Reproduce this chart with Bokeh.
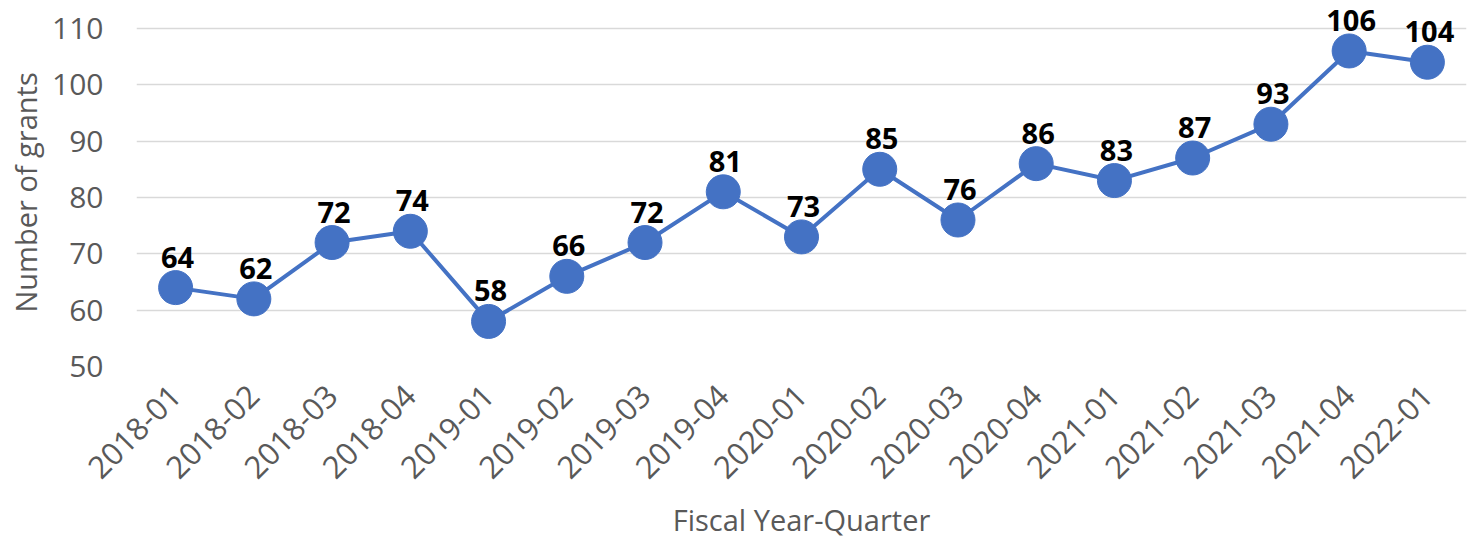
from bokeh.plotting import figure
from bokeh.models import FactorRange, Range1d, FixedTicker, ColumnDataSource, Title
from bokeh.core.properties import value
from bokeh.embed import file_html
from bokeh.resources import INLINE
import math

quarters = ["2018-01", "2018-02", "2018-03", "2018-04", "2019-01", "2019-02", "2019-03",
            "2019-04", "2020-01", "2020-02", "2020-03", "2020-04", "2021-01", "2021-02",
            "2021-03", "2021-04", "2022-01"]
grants = [64, 62, 72, 74, 58, 66, 72, 81, 73, 85, 76, 86, 83, 87, 93, 106, 104]
y_ticks = [50, 60, 70, 80, 90, 100, 110]

BLUE = "#4472C4"
GREY = "#595959"
FONT = "Open Sans"

src = ColumnDataSource(dict(q=quarters, g=grants, lab=[str(v) for v in grants]))

p = figure(x_range=FactorRange(*quarters, range_padding=0),
           y_range=Range1d(50, 114.6),
           width=1473, height=542, output_backend="svg", toolbar_location=None,
           min_border_left=135, min_border_right=7, min_border_top=2, min_border_bottom=175)
p.outline_line_color = None

p.line("q", "g", source=src, line_color=BLUE, line_width=4)
p.scatter("q", "g", source=src, size=34, fill_color=BLUE, line_color=BLUE)
p.text("q", "g", text="lab", source=src, text_align="center", text_baseline="bottom",
       y_offset=-20, x_offset=2, text_font=value(FONT), text_font_style="bold",
       text_font_size="29px", text_color="black")

p.xgrid.grid_line_color = None
p.ygrid.grid_line_color = "#D9D9D9"
p.ygrid.grid_line_width = 1.5
p.yaxis.ticker = FixedTicker(ticks=y_ticks)

for ax in (p.xaxis[0], p.yaxis[0]):
    ax.axis_line_color = None
    ax.major_tick_line_color = None
    ax.minor_tick_line_color = None
    ax.major_tick_out = 0
    ax.major_tick_in = 0
    ax.major_label_text_font = FONT
    ax.major_label_text_color = GREY
    ax.axis_label_text_font = FONT
    ax.axis_label_text_color = GREY
    ax.axis_label_text_font_style = "normal"

p.yaxis.major_label_text_font_size = "30px"
p.yaxis.major_label_standoff = 33

ytitle = Title(text="Number of grants", align="left", offset=54, vertical_align="middle",
               text_font=FONT, text_font_size="29px", text_color=GREY,
               text_font_style="normal", standoff=8)
p.add_layout(ytitle, "left")

p.xaxis.major_label_orientation = math.pi / 4
p.xaxis.major_label_text_font_size = "31px"
p.xaxis.major_label_standoff = 24
p.xaxis.axis_label = "Fiscal Year-Quarter"
p.xaxis.axis_label_text_font_size = "29px"
p.xaxis.axis_label_standoff = 9

open("out.html", "w").write(file_html(p, INLINE))
